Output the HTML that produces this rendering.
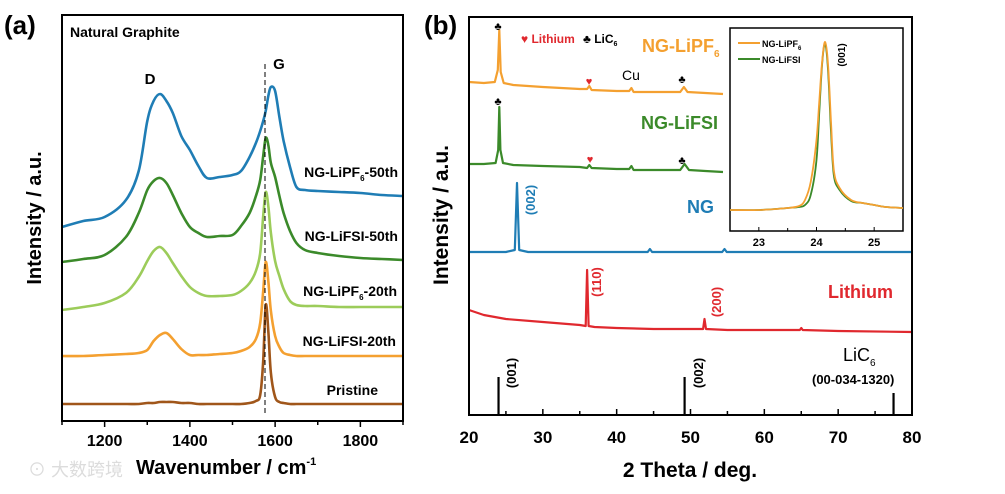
<!DOCTYPE html>
<html><head><meta charset="utf-8"><style>
html,body{margin:0;padding:0;background:#fff;}
svg{display:block;font-family:"Liberation Sans","Noto Sans CJK SC",sans-serif;font-weight:bold;}
</style></head><body>
<svg id="fig" width="1005" height="494" viewBox="0 0 1005 494">
<g id="pa"></g>
<g id="pb"></g>
</svg>
<script>
// ---------- Panel (a) Raman data (wavenumber, intensity a.u.) ----------
const ramanX = [1100,1150,1200,1250,1280,1300,1315,1330,1345,1360,1380,1400,1420,1440,1470,1500,1520,1540,1555,1565,1572,1578,1584,1590,1600,1610,1620,1635,1650,1670,1700,1750,1800,1850,1900];
const ramanLiPF650 = [194,200,204,221,250,300,320,327,320,308,285,271,255,243,244,246,250,264,278,290,300,310,325,334,330,304,280,254,234,231,230,229,228,226,225];
const ramanLiFSI50 = [159,162,166,184,208,231,240,243,238,226,208,194,188,184,185,186,195,208,225,241,265,283,276,258,244,225,208,190,178,171,168,165,163,162,161];
const ramanLiPF620 = [111,114,118,128,144,160,170,174,168,158,145,134,128,125,125,126,130,138,150,168,205,229,215,188,160,145,132,120,116,115,115,114,114,114,114];
const ramanLiFSI20 = [65,65,66,67,68,71,80,86,88,82,72,66,66,66,67,68,70,74,82,98,130,159,140,110,85,74,68,66,65,65,65,65,65,65,65];
const ramanPristine = [17,17,17,17,17,18,18,19,19,19,18,18,17,17,17,17,17,18,20,26,60,116,90,48,24,19,18,17,17,17,17,17,17,17,17];
const ramanTicks = [1200,1400,1600,1800];
// ---------- Panel (b) XRD data ----------
const xrdLiPF6X = [20,22,23.5,23.9,24.1,24.3,24.7,26,30,35,36.0,36.3,36.6,40,41.7,42,42.3,45,48.6,49.1,49.6,52,54.4];
const xrdLiPF6Y = [82,83,82,70,30,72,83,85,87,89,89,86,90,91,91,88,92,92,92,87,92,93,94];
const xrdLiFSIX = [20,22,23.6,23.95,24.1,24.25,24.6,26,30,35,36.0,36.3,36.6,40,41.7,42,42.3,45,48.6,49.2,49.8,52,54.4];
const xrdLiFSIY = [164,164,163,150,107,150,163,165,166,167,168,165,168,169,169,166,170,170,170,164,170,171,172];
const xrdNGX = [20,25,26.2,26.5,26.8,28,44.2,44.5,44.8,54.3,54.6,54.9,70,80];
const xrdNGY = [252,252,250,183,250,252,252,249,252,252,249,252,252,252];
const xrdLiX = [20,22,25,30,35,35.8,36.0,36.2,37,40,45,50,51.7,51.9,52.1,55,60,64.8,65,65.2,70,80];
const xrdLiY = [310,315,319,322,325,326,270,326,327,328,329,329,329,319,329,330,330,330,328,330,331,332];
const stickX = [24.0,49.2,77.5];
const stickH = [38,38,22];
const xrdTicks = [20,30,40,50,60,70,80];
// inset
const insX = [22.5,23.0,23.5,23.7,23.8,23.9,24.0,24.05,24.1,24.15,24.2,24.25,24.3,24.4,24.6,24.8,25.0,25.2,25.5];
const insLiPF6 = [210,210,208,206,200,182,140,100,60,42,64,120,170,188,200,203,205,207,208];
const insLiFSI = [210,210,208,207,205,195,160,110,62,44,70,130,175,190,201,203,205,207,208];
const insTicks = [23,24,25];

const NS="http://www.w3.org/2000/svg";
function mk(parent,tag,attrs,text){const e=document.createElementNS(NS,tag);for(const k in attrs)e.setAttribute(k,attrs[k]);if(text!==undefined)e.textContent=text;parent.appendChild(e);return e;}
function smooth(pts){let d="M"+pts[0][0].toFixed(1)+","+pts[0][1].toFixed(1);for(let i=0;i<pts.length-1;i++){const p0=pts[Math.max(0,i-1)],p1=pts[i],p2=pts[i+1],p3=pts[Math.min(pts.length-1,i+2)];const c1x=p1[0]+(p2[0]-p0[0])/6,c1y=p1[1]+(p2[1]-p0[1])/6,c2x=p2[0]-(p3[0]-p1[0])/6,c2y=p2[1]-(p3[1]-p1[1])/6;d+=" C"+c1x.toFixed(1)+","+c1y.toFixed(1)+" "+c2x.toFixed(1)+","+c2y.toFixed(1)+" "+p2[0].toFixed(1)+","+p2[1].toFixed(1);}return d;}

// ---- Panel a ----
const pa=document.getElementById('pa');
const ax0=62,ax1=403,ay0=15,ay1=421;
const xa=v=>ax0+(v-1100)/800*(ax1-ax0);
const ya=v=>ay1-v;
const seriesA=[[ramanPristine,'#a0561a','pristine-line'],[ramanLiFSI20,'#f4a030','ng-lifsi-20th-line'],[ramanLiPF620,'#9ccc5a','ng-lipf6-20th-line'],[ramanLiFSI50,'#3b8a2a','ng-lifsi-50th-line'],[ramanLiPF650,'#1f7db5','ng-lipf6-50th-line']];
seriesA.forEach(s=>{
 const el=mk(pa,'path',{d:smooth(ramanX.map((x,i)=>[xa(x),ya(s[0][i])])),fill:'none',stroke:s[1],'stroke-width':2.6});
 
 
});
let e;
e=mk(pa,'line',{x1:265,y1:64,x2:265,y2:415,stroke:'#000','stroke-width':1,'stroke-dasharray':'5,3'});


e=mk(pa,'rect',{x:ax0,y:ay0,width:ax1-ax0,height:ay1-ay0,fill:'none',stroke:'#000','stroke-width':2});


for(let v=1100;v<=1900;v+=100){const t=mk(pa,'line',{x1:xa(v),y1:ay1,x2:xa(v),y2:ay1+(v%200===0?6:4),stroke:'#000','stroke-width':1.5});
 
 }
ramanTicks.forEach(v=>{const t=mk(pa,'text',{x:xa(v),y:446,'text-anchor':'middle','font-size':16},v);
 
 });
// ---- Panel b ----
const pb=document.getElementById('pb');
const bx0=469,bx1=912,by0=17,by1=415;
const xb=v=>bx0+(v-20)/60*(bx1-bx0);
const yb=v=>v;
const seriesB=[[xrdLiPF6X,xrdLiPF6Y,'#f4a030','xrd-ng-lipf6-line'],[xrdLiFSIX,xrdLiFSIY,'#3b8a2a','xrd-ng-lifsi-line'],[xrdNGX,xrdNGY,'#1f7db5','xrd-ng-line'],[xrdLiX,xrdLiY,'#e0282e','xrd-lithium-line']];
seriesB.forEach(s=>{
 const el=mk(pb,'polyline',{points:s[0].map((x,i)=>xb(x).toFixed(1)+","+yb(s[1][i])).join(' '),fill:'none',stroke:s[2],'stroke-width':2.2,'stroke-linejoin':'round'});
 
 
});
stickX.forEach((x,i)=>{const el=mk(pb,'line',{x1:xb(x),y1:by1,x2:xb(x),y2:by1-stickH[i],stroke:'#000','stroke-width':2.2});
 
 });
e=mk(pb,'rect',{x:bx0,y:by0,width:bx1-bx0,height:by1-by0,fill:'none',stroke:'#000','stroke-width':2});


for(let v=20;v<=80;v+=5){const t=mk(pb,'line',{x1:xb(v),y1:by1,x2:xb(v),y2:by1-(v%10===0?6:4),stroke:'#000','stroke-width':1.5});
 
 }
xrdTicks.forEach(v=>{const t=mk(pb,'text',{x:xb(v),y:443,'text-anchor':'middle','font-size':17},v);
 
 });
// inset
const ix0=730,ix1=903,iy0=28,iy1=231;
const xi=v=>ix0+(v-22.5)/3*(ix1-ix0);
e=mk(pb,'rect',{x:ix0,y:iy0,width:ix1-ix0,height:iy1-iy0,fill:'#fff',stroke:'#000','stroke-width':1.5});


[[insLiFSI,'#3b8a2a','inset-ng-lifsi-line'],[insLiPF6,'#f4a030','inset-ng-lipf6-line']].forEach(s=>{
 const el=mk(pb,'path',{d:smooth(insX.map((x,i)=>[xi(x),s[0][i]])),fill:'none',stroke:s[1],'stroke-width':1.8});
 
 
});
for(let v=22.5;v<=25.5;v+=0.5){const t=mk(pb,'line',{x1:xi(v),y1:iy1,x2:xi(v),y2:iy1-(Number.isInteger(v)?4:3),stroke:'#000','stroke-width':1});
 
 }
insTicks.forEach(v=>{const t=mk(pb,'text',{x:xi(v),y:246,'text-anchor':'middle','font-size':11},v);
 
 });
</script>
<!-- static text -->
<svg width="1005" height="494" style="position:absolute;left:0;top:0">
<g font-family="Liberation Sans, Noto Sans CJK SC, sans-serif" font-weight="bold">
<text x="28" y="476" font-size="18" fill="#dcdcdc" font-weight="normal">⊙ 大数跨境</text>
<text x="4" y="34" font-size="26">(a)</text>
<text x="70" y="37" font-size="14">Natural Graphite</text>
<text x="150" y="84" font-size="15" text-anchor="middle">D</text>
<text x="279" y="69" font-size="15" text-anchor="middle">G</text>
<text x="398" y="177" font-size="14" text-anchor="end">NG-LiPF<tspan font-size="8" dy="4">6</tspan><tspan dy="-4">-50th</tspan></text>
<text x="398" y="241" font-size="14" text-anchor="end">NG-LiFSI-50th</text>
<text x="397" y="296" font-size="14" text-anchor="end">NG-LiPF<tspan font-size="8" dy="4">6</tspan><tspan dy="-4">-20th</tspan></text>
<text x="396" y="346" font-size="14" text-anchor="end">NG-LiFSI-20th</text>
<text x="378" y="395" font-size="14" text-anchor="end">Pristine</text>
<text transform="translate(41,218) rotate(-90)" font-size="20" text-anchor="middle">Intensity / a.u.</text>
<text x="136" y="474" font-size="20">Wavenumber / cm<tspan font-size="11" dy="-9">-1</tspan></text>

<text x="424" y="34" font-size="26">(b)</text>
<text transform="translate(448,215) rotate(-90)" font-size="21" text-anchor="middle">Intensity / a.u.</text>
<text x="690" y="477" font-size="21" text-anchor="middle">2 Theta / deg.</text>
<text x="521" y="43" font-size="12" fill="#e0282e">♥ <tspan font-size="12">Lithium</tspan></text>
<text x="583" y="43" font-size="12">♣ LiC<tspan font-size="7" dy="3">6</tspan></text>
<text x="642" y="52" font-size="18" fill="#f4a030">NG-LiPF<tspan font-size="10" dy="5">6</tspan></text>
<text x="622" y="80" font-size="14" font-weight="normal">Cu</text>
<text x="641" y="129" font-size="18" fill="#3b8a2a">NG-LiFSI</text>
<text x="687" y="213" font-size="18" fill="#1f7db5">NG</text>
<text x="828" y="298" font-size="18" fill="#e0282e">Lithium</text>
<text x="843" y="361" font-size="18" font-weight="normal">LiC<tspan font-size="10" dy="5">6</tspan></text>
<text x="812" y="384" font-size="13">(00-034-1320)</text>
<g font-size="11" text-anchor="middle">
<text x="498" y="30">♣</text>
<text x="589" y="85" fill="#e0282e">♥</text>
<text x="682" y="83">♣</text>
<text x="498" y="105">♣</text>
<text x="590" y="163" fill="#e0282e">♥</text>
<text x="682" y="164">♣</text>
</g>
<g font-size="13">
<text transform="translate(535,200) rotate(-90)" text-anchor="middle" fill="#1f7db5">(002)</text>
<text transform="translate(601,282) rotate(-90)" text-anchor="middle" fill="#e0282e">(110)</text>
<text transform="translate(721,302) rotate(-90)" text-anchor="middle" fill="#e0282e">(200)</text>
<text transform="translate(516,373) rotate(-90)" text-anchor="middle">(001)</text>
<text transform="translate(703,373) rotate(-90)" text-anchor="middle">(002)</text>
<text transform="translate(845,55) rotate(-90)" text-anchor="middle" font-size="10">(001)</text>
</g>
<line x1="738" y1="43" x2="760" y2="43" stroke="#f4a030" stroke-width="2"/>
<text x="762" y="47" font-size="9">NG-LiPF<tspan font-size="6" dy="3">6</tspan></text>
<line x1="738" y1="59" x2="760" y2="59" stroke="#3b8a2a" stroke-width="2"/>
<text x="762" y="63" font-size="9">NG-LiFSI</text>
</g>
</svg>
</body></html>
